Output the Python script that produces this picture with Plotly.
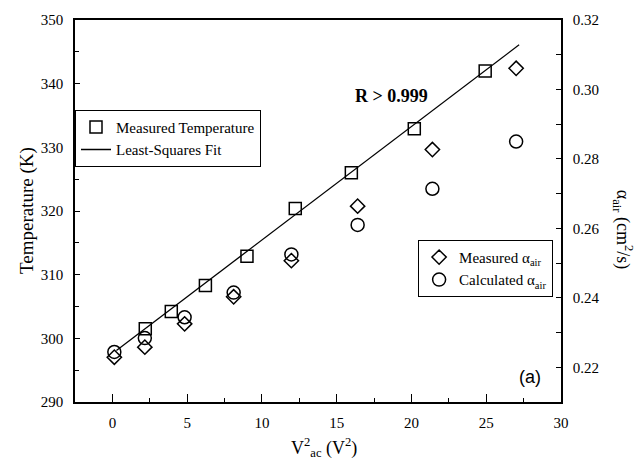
import plotly.graph_objects as go

# ---- data ----
v2_temp = [2.2, 3.94, 6.22, 9.0, 12.23, 15.98, 20.19, 24.93]
temp_k = [301.5, 304.2, 308.3, 312.9, 320.4, 326.0, 332.9, 342.0]

v2_alpha = [0.13, 2.17, 4.83, 8.11, 11.97, 16.4, 21.4, 27.0]
alpha_measured = [0.2229, 0.2258, 0.2325, 0.2403, 0.2507, 0.2664, 0.2827, 0.3061]
alpha_calculated = [0.2244, 0.2284, 0.2344, 0.2415, 0.2525, 0.2610, 0.2714, 0.2850]

fit_x = [0.27, 27.2]
fit_y = [298.1, 346.1]

SERIF = "Liberation Serif"
BLACK = "black"

fig = go.Figure()

fig.add_trace(go.Scatter(
    x=v2_temp, y=temp_k, mode="markers", name="Measured Temperature",
    marker=dict(symbol="square-open", size=12, color=BLACK, line=dict(width=1.5, color=BLACK)),
    legend="legend", yaxis="y",
))
fig.add_trace(go.Scatter(
    x=fit_x, y=fit_y, mode="lines", name="Least-Squares Fit",
    line=dict(color=BLACK, width=1.3), legend="legend", yaxis="y",
))
fig.add_trace(go.Scatter(
    x=v2_alpha, y=alpha_measured, mode="markers", name="Measured α<sub>air</sub>",
    marker=dict(symbol="diamond-open", size=11, color=BLACK, line=dict(width=1.5, color=BLACK)),
    legend="legend2", yaxis="y2",
))
fig.add_trace(go.Scatter(
    x=v2_alpha, y=alpha_calculated, mode="markers", name="Calculated α<sub>air</sub>",
    marker=dict(symbol="circle-open", size=13, color=BLACK, line=dict(width=1.5, color=BLACK)),
    legend="legend2", yaxis="y2",
))

tickfont = dict(family=SERIF, size=15, color=BLACK)

fig.update_layout(
    width=639, height=468,
    margin=dict(l=75, r=78, t=16, b=66),
    paper_bgcolor="white", plot_bgcolor="white",
    font=dict(family=SERIF, color=BLACK),
    xaxis=dict(
        range=[-2.5, 30], tick0=0, dtick=5, ticks="inside", ticklen=8, tickwidth=1.3,
        tickcolor=BLACK, showline=True, linecolor=BLACK, linewidth=1.5, mirror=True,
        showgrid=False, zeroline=False, tickfont=tickfont, ticklabelstandoff=6,
        minor=dict(ticks="inside", ticklen=4, dtick=2.5, tick0=0, tickcolor=BLACK, tickwidth=1.2),
    ),
    yaxis=dict(
        range=[290, 350], dtick=10, ticks="inside", ticklen=5, tickwidth=1.3,
        tickcolor=BLACK, showline=True, linecolor=BLACK, linewidth=1.5,
        showgrid=False, zeroline=False, tickfont=tickfont, ticklabelstandoff=7,
        minor=dict(ticks="inside", ticklen=4, dtick=5, tickcolor=BLACK, tickwidth=1.2),
    ),
    yaxis2=dict(
        range=[0.21, 0.32], dtick=0.02, tick0=0.22, tickformat=".2f", overlaying="y",
        side="right", ticks="inside", ticklen=5, tickwidth=1.3, tickcolor=BLACK,
        showline=True, linecolor=BLACK, linewidth=1.5, showgrid=False, zeroline=False,
        tickfont=tickfont, ticklabelstandoff=7,
        minor=dict(ticks="inside", ticklen=5, dtick=0.01, tick0=0.21, tickcolor=BLACK, tickwidth=1.2),
    ),
    legend=dict(
        x=0.0, y=0.765, xanchor="left", yanchor="top",
        bgcolor="white", bordercolor=BLACK, borderwidth=1,
        font=dict(family=SERIF, size=15, color=BLACK), tracegroupgap=0,
    ),
    legend2=dict(
        x=0.706, y=0.4245, xanchor="left", yanchor="top",
        bgcolor="white", bordercolor=BLACK, borderwidth=1,
        font=dict(family=SERIF, size=15, color=BLACK), tracegroupgap=0,
    ),
    annotations=[
        dict(text="<b>R > 0.999</b>", x=18.65, y=338.1, xref="x", yref="y",
             showarrow=False, font=dict(family=SERIF, size=18, color=BLACK)),
        dict(text="(a)", x=543, y=376.7, xref="paper", yref="paper", showarrow=False,
             font=dict(family="Liberation Sans", size=18, color=BLACK)),
        dict(text="Temperature (K)", x=27, y=209, textangle=-90, showarrow=False,
             font=dict(family=SERIF, size=19, color=BLACK)),
        dict(text="V<sup>2</sup><sub>ac</sub> (V<sup>2</sup>)", x=324, y=448, showarrow=False,
             font=dict(family=SERIF, size=18, color=BLACK)),
        dict(text="α<sub>air</sub> (cm<sup>2</sup>/s)", x=623, y=228, textangle=90, showarrow=False,
             font=dict(family=SERIF, size=18, color=BLACK)),
    ],
)

# convert pixel-positioned annotations (all but the first) to paper coords
PL, PR, PT, PB = 75, 639 - 78, 16, 468 - 66
anns = list(fig.layout.annotations)
for a in anns[1:]:
    px, py = a.x, a.y
    a.x = (px - PL) / (PR - PL)
    a.y = (PB - py) / (PB - PT)
    a.xref = "paper"
    a.yref = "paper"
    a.xanchor = "right" if a.text == "(a)" else "center"
    a.yanchor = "middle"
fig.layout.annotations = anns

fig.write_html("out.html")
